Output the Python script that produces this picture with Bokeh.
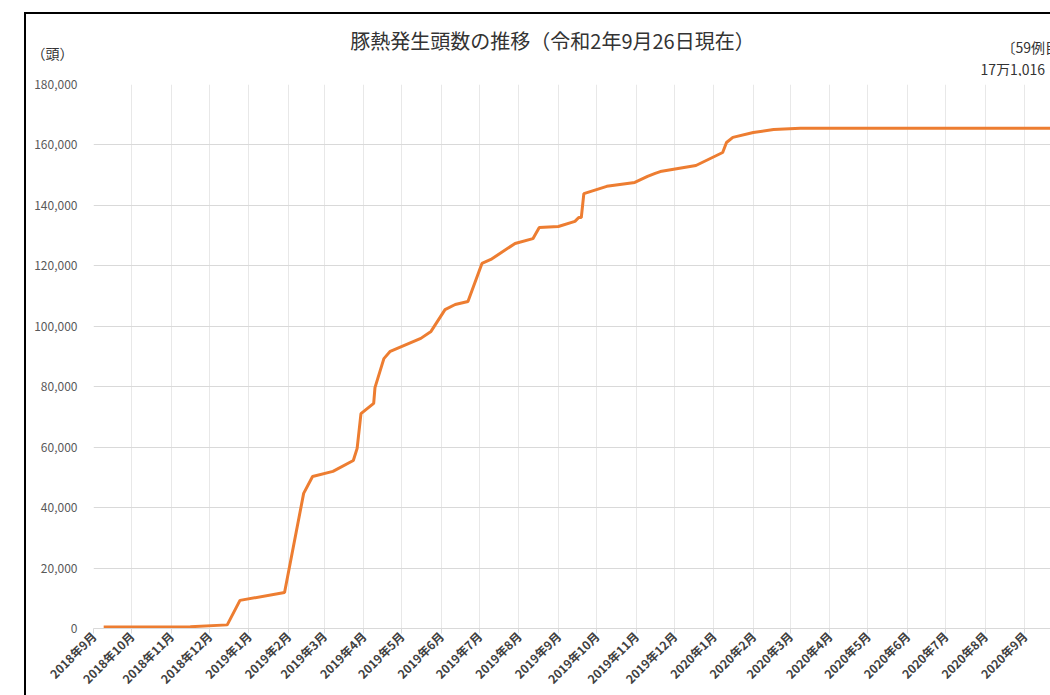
import math
import re
import pandas as pd
from bokeh.plotting import figure
from bokeh.layouts import column
from bokeh.models import Range1d, FixedTicker, NumeralTickFormatter, Label
from bokeh.embed import file_html
from bokeh.resources import INLINE

# ---- data ----
title_text = "豚熱発生頭数の推移（令和2年9月26日現在）"
unit_text = "（頭）"
note_line1 = "〔59例目"
note_line2 = "17万1,016"

dates = [
    "2018-09-09", "2018-11-16", "2018-12-15", "2018-12-25", "2019-01-29",
    "2019-02-13", "2019-02-20", "2019-03-08", "2019-03-24", "2019-03-27",
    "2019-03-30", "2019-04-09", "2019-04-10", "2019-04-17", "2019-04-22",
    "2019-05-16", "2019-05-24", "2019-06-04", "2019-06-12", "2019-06-22",
    "2019-07-03", "2019-07-10", "2019-07-29", "2019-08-12", "2019-08-17",
    "2019-09-01", "2019-09-14", "2019-09-17", "2019-09-19", "2019-09-21",
    "2019-10-09", "2019-10-31", "2019-11-10", "2019-11-16", "2019-11-20",
    "2019-12-18", "2020-01-08", "2020-01-11", "2020-01-16", "2020-02-01",
    "2020-02-17", "2020-03-09", "2020-09-26",
]
heads = [
    500, 600, 1200, 9300, 11900,
    44700, 50300, 52000, 55600, 59600,
    71100, 74500, 79700, 89300, 91700,
    96000, 98300, 105500, 107200, 108200,
    120800, 122100, 127400, 129000, 132700,
    133000, 134700, 136000, 136000, 143900,
    146300, 147600, 149600, 150600, 151200,
    153200, 157500, 160800, 162500, 164100,
    165100, 165500, 165500,
]
month_labels = [
    "2018年9月", "2018年10月", "2018年11月", "2018年12月",
    "2019年1月", "2019年2月", "2019年3月", "2019年4月", "2019年5月", "2019年6月",
    "2019年7月", "2019年8月", "2019年9月", "2019年10月", "2019年11月", "2019年12月",
    "2020年1月", "2020年2月", "2020年3月", "2020年4月", "2020年5月", "2020年6月",
    "2020年7月", "2020年8月", "2020年9月",
]
y_ticks = [0, 20000, 40000, 60000, 80000, 100000, 120000, 140000, 160000, 180000]

# ---- derived ----
origin = pd.Timestamp("2018-09-01")
xs = [(pd.Timestamp(d) - origin).days for d in dates]
tick_x = []
for lab in month_labels:
    yy, mm = re.match(r"(\d+)年(\d+)月", lab).groups()
    tick_x.append((pd.Timestamp(int(yy), int(mm), 1) - origin).days)

JP = "Noto Sans CJK JP"
TXT = "#333333"

# ---- header strip: frame is aligned with the chart frame (page x 93..1050), y in page px ----
UNIT_Y = 52
head = figure(width=1024, height=62, output_backend="svg", toolbar_location=None,
              x_range=Range1d(93, 1050), y_range=Range1d(76, 14),
              x_axis_location=None,
              min_border_left=67, min_border_right=0, min_border_top=0, min_border_bottom=0,
              title=None)
head.grid.visible = False
head.outline_line_color = None
head.background_fill_color = "white"
head.border_fill_color = "white"
# unit text "（頭）" shown as the header's single y tick label (left of the frame)
head.yaxis.ticker = FixedTicker(ticks=[UNIT_Y])
head.yaxis.major_label_overrides = {UNIT_Y: unit_text}
head.yaxis.major_label_text_font = JP
head.yaxis.major_label_text_font_size = "14px"
head.yaxis.major_label_text_color = TXT
head.yaxis.major_label_standoff = 14
head.yaxis.axis_line_color = None
head.yaxis.major_tick_line_color = None
head.yaxis.minor_tick_line_color = None

def put(p, x, y, text, size, align="left"):
    p.add_layout(Label(x=x, y=y, text=text, text_align=align, text_baseline="middle",
                       text_font=JP, text_font_size=size, text_color=TXT))

put(head, 552, 40, title_text, "20px", "center")
put(head, 1001, 46, note_line1, "14px")
put(head, 980, 68, note_line2, "14px")

# ---- main chart ----
p = figure(width=1024, height=619, output_backend="svg", toolbar_location=None,
           x_range=Range1d(0, 751.4), y_range=Range1d(0, 180000),
           min_border_left=67, min_border_right=0, min_border_top=8, min_border_bottom=67,
           title=None)
p.outline_line_color = None
p.background_fill_color = "white"
p.border_fill_color = "white"

p.line(xs, heads, line_color="#ED7D31", line_width=3)

p.xaxis.ticker = FixedTicker(ticks=tick_x)
p.xaxis.major_label_overrides = {t: l for t, l in zip(tick_x, month_labels)}
p.xaxis.major_label_orientation = math.pi / 4
p.xaxis.major_label_text_font = JP
p.xaxis.major_label_text_font_size = "12px"
p.xaxis.major_label_text_font_style = "bold"
p.xaxis.major_label_text_color = "#404040"
p.xaxis.axis_line_color = "#d9d9d9"
p.xaxis.major_tick_line_color = "#d9d9d9"
p.xaxis.major_tick_out = 5
p.xaxis.major_tick_in = 0
p.xaxis.minor_tick_line_color = None
p.xaxis.major_label_standoff = 0

p.yaxis.ticker = FixedTicker(ticks=y_ticks)
p.yaxis.formatter = NumeralTickFormatter(format="0,0")
p.yaxis.major_label_text_font = JP
p.yaxis.major_label_text_font_size = "12px"
p.yaxis.major_label_text_color = "#595959"
p.yaxis.axis_line_color = None
p.yaxis.major_tick_line_color = None
p.yaxis.minor_tick_line_color = None
p.yaxis.major_label_standoff = 10

p.xgrid.grid_line_color = "#e8e8e8"
p.ygrid.grid_line_color = "#d9d9d9"

layout = column(head, p, spacing=0)
layout.styles = {"border-left": "2px solid #000", "border-top": "2px solid #000",
                 "margin-left": "24px", "margin-top": "12px"}

open("out.html", "w").write(file_html(layout, INLINE))
